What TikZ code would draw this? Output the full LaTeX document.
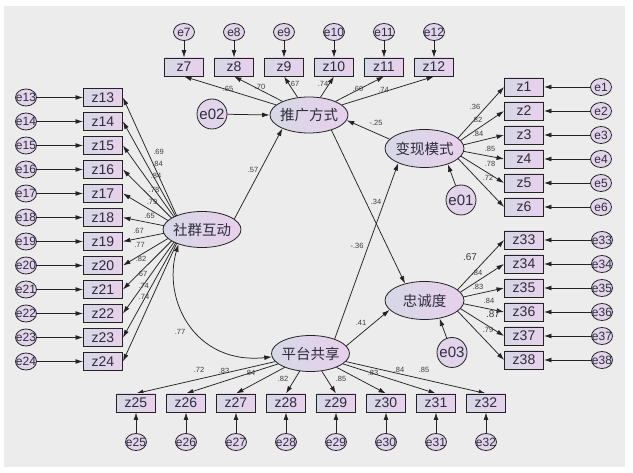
\documentclass[tikz,border=0pt]{standalone}
\usepackage{fontspec}
\setmainfont{Liberation Sans}
\newfontfamily\cjk{Noto Sans CJK SC}
\usetikzlibrary{arrows.meta,shapes.geometric,backgrounds}
\definecolor{bgc}{RGB}{236,236,236}
\definecolor{lc}{RGB}{214,216,230}
\definecolor{rc}{RGB}{232,208,236}
\definecolor{ec}{RGB}{226,212,234}
\definecolor{ln}{RGB}{35,35,35}
\definecolor{tc}{RGB}{60,60,60}
\definecolor{nt}{RGB}{45,45,60}
\newcommand\ztxt[1]{\makebox[0pt]{#1}}
\begin{document}
\begin{tikzpicture}[x=1pt,y=-1pt,
 obs/.style={rectangle,draw=ln,line width=0.9pt,minimum width=39pt,minimum height=18pt,inner sep=0pt,left color=lc,right color=rc,text=nt,font=\fontsize{14}{14}\selectfont},
 err/.style={ellipse,draw=ln,line width=0.8pt,minimum width=21pt,minimum height=17pt,inner sep=0pt,fill=ec,text=nt,font=\fontsize{12}{12}\selectfont},
 errb/.style={circle,draw=ln,line width=0.8pt,minimum size=30pt,inner sep=0pt,fill=ec,text=nt,font=\fontsize{15}{15}\selectfont},
 lat/.style={ellipse,draw=ln,line width=0.8pt,minimum width=78pt,minimum height=36pt,inner sep=0pt,left color=lc,right color=rc,text=nt,font=\cjk\fontsize{14.5}{14.5}\selectfont},
 arr/.style={draw=ln,line width=0.75pt,-{Latex[length=7.5pt,width=4.8pt]}},
 lab/.style={text=tc,font=\fontsize{7.5}{7.5}\selectfont,inner sep=0pt},
]
\useasboundingbox (0,0) rectangle (633,473);
% observed variables and errors
\foreach \i in {13,...,24}{
  \pgfmathsetmacro\yy{97.5+24*(\i-13)}
  \node[obs] (z\i) at (103,\yy) {z\i};
  \node[err] (e\i) at (26,\yy) {\ztxt{e\i}};
}
\foreach \i in {7,...,12}{
  \pgfmathsetmacro\xx{184+50*(\i-7)}
  \node[obs] (z\i) at (\xx,67) {z\i};
  \node[err] (e\i) at (\xx,32) {\ztxt{e\i}};
}
\foreach \i in {1,...,6}{
  \pgfmathsetmacro\yy{87+24*(\i-1)}
  \node[obs] (z\i) at (524,\yy) {z\i};
  \node[err] (e\i) at (601,\yy) {\ztxt{e\i}};
}
\foreach \i in {33,...,38}{
  \pgfmathsetmacro\yy{240+24*(\i-33)}
  \node[obs] (z\i) at (524,\yy) {z\i};
  \node[err] (e\i) at (602,\yy) {\ztxt{e\i}};
}
\foreach \i in {25,...,32}{
  \pgfmathsetmacro\xx{136+50*(\i-25)}
  \node[obs] (z\i) at (\xx,403) {z\i};
  \node[err] (e\i) at (\xx,442) {\ztxt{e\i}};
}
% latent variables
\node[lat] (tg) at (309,115) {\ztxt{推广方式}};
\node[lat,minimum width=79pt,minimum height=38pt] (bx) at (424.5,148.5) {\ztxt{变现模式}};
\node[lat,minimum width=79pt,minimum height=38pt] (zc) at (424.5,300.5) {\ztxt{忠诚度}};
\node[lat] (pt) at (310.5,353.5) {\ztxt{平台共享}};
\node[lat] (sq) at (202,229.5) {\ztxt{社群互动}};
\node[errb] (e02) at (212,114) {e02};
\node[errb] (e01) at (461,200) {e01};
\node[errb] (e03) at (452,352.5) {e03};
% labels
\foreach \x/\y/\t [count=\n] in {228/89/.65,260/87/.70,294/83.5/.67,323/83.5/.74,358/89/.60,383.5/90/.74,
 376/123/-.25,253/170/.57,376/202/.34,357/246/-.36,361/323/.41,180/332/.77,
 475/107/.36,477/120/.82,478/133.5/.84,490/148.5/.85,490/164/.78,488/177.5/.72,
 477/273/.84,478/287/.83,489/301/.84,488/330/.79,
 199/370/.72,224/371/.83,250/373/.84,283/379/.82,341/379/.85,373/373/.83,399/370/.84,424/370/.85,
 158.5/152/.69,157.5/164/.84,156/176/.84,154/189.5/.78,152/202/.79,149.5/216/.65,
 138.5/231/.67,139.5/245/.77,141/259/.82,142/273.5/.67,143.5/286/.74,144/297/.74}{
  \node[lab] (lbl\n) at (\x,\y) {\t};
}
\node[lab,font=\fontsize{10}{10}\selectfont] (lblA) at (470,257) {.67};
\node[lab,font=\fontsize{10}{10}\selectfont] (lblB) at (493,314) {.87};
% connectors
\begin{scope}[on background layer]
\fill[white] (0,0) rectangle (633,473);
\fill[bgc] (4,6) rectangle (625,467);
\foreach \i in {13,...,24}{
  \draw[arr] ([xshift=-19pt]sq.center) -- (z\i.east);
  \draw[arr] (e\i) -- (z\i.west);
}
\foreach \i in {7,...,12}{
  \draw[arr] (tg) -- (z\i.south);
  \draw[arr] (e\i) -- (z\i.north);
}
\foreach \i in {1,...,6}{
  \draw[arr] ([xshift=24pt]bx.center) -- (z\i.west);
  \draw[arr] (e\i) -- (z\i.east);
}
\foreach \i in {33,...,38}{
  \draw[arr] ([xshift=23pt]zc.center) -- (z\i.west);
  \draw[arr] (e\i) -- (z\i.east);
}
\foreach \i in {25,...,32}{
  \draw[arr] (pt) -- (z\i.north);
  \draw[arr] (e\i) -- (z\i.south);
}
\draw[arr] (e02) -- (tg.west);
\draw[arr] (sq.18) -- (tg.207);
\draw[arr] (bx.165) -- (tg.352);
\draw[arr] (tg.326) -- (zc.139);
\draw[arr] (pt.31) -- (bx.209);
\draw[arr] (pt.12) -- (zc.195);
\draw[arr] (e01) -- (bx.326);
\draw[arr] (e03) -- (zc.310);
\draw[arr,{Latex[length=7.5pt,width=4.8pt]}-{Latex[length=7.5pt,width=4.8pt]}] (sq.212) .. controls (162,300) and (195,365) .. (pt.185);
\end{scope}
\end{tikzpicture}
\end{document}
